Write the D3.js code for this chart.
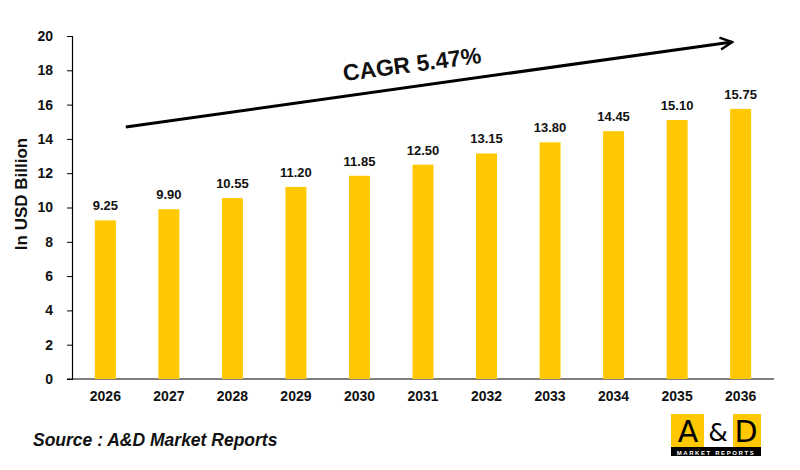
<!DOCTYPE html>
<html>
<head>
<meta charset="utf-8">
<script src="https://cdn.jsdelivr.net/npm/d3@7"></script>
<style>
  html, body { margin: 0; padding: 0; background: #fff; }
  svg { display: block; font-family: "Liberation Sans", Arial, sans-serif; }
</style>
</head>
<body>
<svg id="chart" width="800" height="470"></svg>
<script>
const years = ["2026", "2027", "2028", "2029", "2030", "2031", "2032", "2033", "2034", "2035", "2036"];
const values = [9.25, 9.90, 10.55, 11.20, 11.85, 12.50, 13.15, 13.80, 14.45, 15.10, 15.75];
const yTicks = [0, 2, 4, 6, 8, 10, 12, 14, 16, 18, 20];
const cagrLabel = "CAGR 5.47%";
const yTitle = "In USD Billion";
const sourceText = "Source : A&D Market Reports";

const svg = d3.select("#chart");

/* SCALES */
const x = d3.scaleBand().domain(years).range([72, 774]).paddingInner(0.67).paddingOuter(0.36);
const y = d3.scaleLinear().domain([0, 20]).range([379, 36]);

/* AXES */
const yAxis = svg.append("g")
  .attr("transform", "translate(72,0)")
  .call(d3.axisLeft(y).tickValues(yTicks).tickSize(5).tickPadding(14));
yAxis.select(".domain").attr("stroke", "#000").attr("stroke-width", 1.2);
yAxis.selectAll(".tick line").attr("stroke", "#000");
yAxis.selectAll(".tick text")
  .attr("font-size", 14).attr("font-weight", "bold").attr("fill", "#111")
  .attr("font-family", "'Liberation Sans', Arial, sans-serif");

const xAxis = svg.append("g")
  .attr("transform", "translate(0,379)")
  .call(d3.axisBottom(x).tickSize(0).tickPadding(12));
xAxis.select(".domain").attr("stroke", "#000").attr("stroke-width", 1.2)
  .attr("d", "M67,0H774");
xAxis.selectAll(".tick text")
  .attr("font-size", 14).attr("font-weight", "bold").attr("fill", "#111")
  .attr("font-family", "'Liberation Sans', Arial, sans-serif");

/* BARS */
svg.selectAll("rect.bar")
  .data(values)
  .enter()
  .append("rect")
  .attr("class", "bar")
  .attr("x", (d, i) => x(years[i]))
  .attr("y", d => y(d))
  .attr("width", x.bandwidth())
  .attr("height", d => y(0) - y(d))
  .attr("fill", "#FFC800");

svg.selectAll("text.val")
  .data(values)
  .enter()
  .append("text")
  .attr("class", "val")
  .attr("x", (d, i) => x(years[i]) + x.bandwidth() / 2)
  .attr("y", d => y(d) - 10)
  .attr("text-anchor", "middle")
  .attr("font-size", 13)
  .attr("font-weight", "bold")
  .attr("fill", "#111")
  .text(d => d.toFixed(2));

/* Y TITLE */
svg.append("text")
  .attr("transform", "translate(27,194) rotate(-90)")
  .attr("text-anchor", "middle")
  .attr("font-size", 17)
  .attr("font-weight", "bold")
  .attr("fill", "#111")
  .text(yTitle);

/* CAGR ARROW */
const defs = svg.append("defs");
defs.append("marker")
  .attr("id", "arrow")
  .attr("viewBox", "0 0 10 10")
  .attr("refX", 9).attr("refY", 5)
  .attr("markerWidth", 5).attr("markerHeight", 5)
  .attr("orient", "auto")
  .append("path")
  .attr("d", "M1,1 L9,5 L1,9")
  .attr("fill", "none")
  .attr("stroke", "#000")
  .attr("stroke-width", 1.6);

const ax0 = x(years[0]) + x.bandwidth() + 10;
const ax1 = x(years[years.length - 1]) + 2;
svg.append("line")
  .attr("x1", ax0).attr("y1", y(14.7))
  .attr("x2", ax1).attr("y2", y(19.65))
  .attr("stroke", "#000")
  .attr("stroke-width", 3)
  .attr("marker-end", "url(#arrow)");

svg.append("text")
  .attr("transform", "translate(413,72) rotate(-7.5)")
  .attr("text-anchor", "middle")
  .attr("font-size", 23)
  .attr("font-weight", "bold")
  .attr("fill", "#111")
  .text(cagrLabel);

/* SOURCE */
svg.append("text")
  .attr("x", 33).attr("y", 446)
  .attr("font-size", 17.5)
  .attr("font-weight", "bold")
  .attr("font-style", "italic")
  .attr("fill", "#111")
  .text(sourceText);

/* LOGO */
const logo = svg.append("g").attr("transform", "translate(671,414)");
logo.append("rect").attr("width", 90).attr("height", 42).attr("fill", "#FFC800");
logo.append("rect").attr("x", 33).attr("y", 0).attr("width", 29).attr("height", 33).attr("fill", "#fff");
logo.append("rect").attr("y", 33).attr("width", 90).attr("height", 9).attr("fill", "#000");
logo.append("text").attr("x", 17).attr("y", 28).attr("text-anchor", "middle")
  .attr("font-size", 30).attr("font-family", "'DejaVu Sans', sans-serif").attr("fill", "#000").text("A");
logo.append("text").attr("x", 47).attr("y", 27).attr("text-anchor", "middle")
  .attr("font-size", 25).attr("font-family", "'DejaVu Sans', sans-serif").attr("fill", "#000").text("&");
logo.append("text").attr("x", 75).attr("y", 28).attr("text-anchor", "middle")
  .attr("font-size", 30).attr("font-family", "'DejaVu Sans', sans-serif").attr("fill", "#000").text("D");
logo.append("text").attr("x", 45).attr("y", 40.5).attr("text-anchor", "middle")
  .attr("font-size", 6).attr("letter-spacing", 1.6).attr("font-weight", "bold")
  .attr("fill", "#fff").text("MARKET REPORTS");
</script>
</body>
</html>
